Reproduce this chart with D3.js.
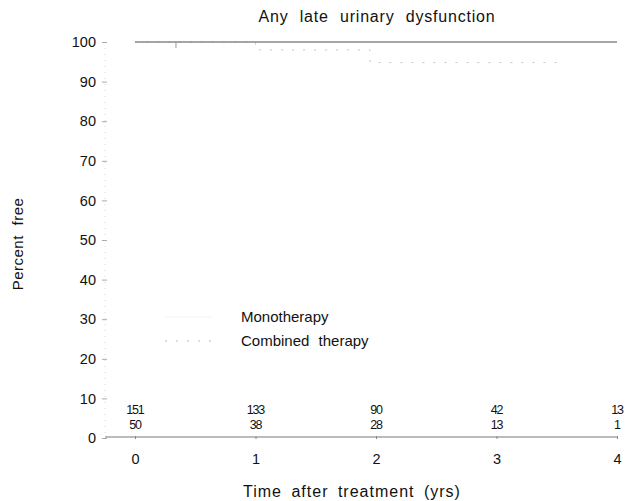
<!DOCTYPE html>
<html>
<head>
<meta charset="utf-8">
<script src="https://cdn.jsdelivr.net/npm/d3@7"></script>
<style>
  html, body { margin: 0; padding: 0; background: #fff; }
  svg text { font-family: "Liberation Sans", Arial, sans-serif; fill: #111; }
</style>
</head>
<body>
<svg id="chart" width="626" height="501"></svg>
<script>
// ---- data ----
const title = "Any late urinary dysfunction";
const xLabel = "Time after treatment (yrs)";
const yLabel = "Percent free";
const xTicks = [0, 1, 2, 3, 4];
const yTicks = [0, 10, 20, 30, 40, 50, 60, 70, 80, 90, 100];
const seriesNames = ["Monotherapy", "Combined therapy"];
// step curves: times (yrs) and percent free
const monoTimes = [0, 4];
const monoValues = [100, 100];
const combTimes = [0, 1.0, 1.95, 3.55];
const combValues = [100, 98, 94.8, 94.8];
const censorTimes = [0.34];
const censorValues = [100];
// numbers at risk
const riskTimes = [0, 1, 2, 3, 4];
const riskMono = [151, 133, 90, 42, 13];
const riskComb = [50, 38, 28, 13, 1];

// ---- layout ----
const svg = d3.select("#chart");
const x = d3.scaleLinear().domain([0, 4]).range([135, 617]);
const y = d3.scaleLinear().domain([0, 100]).range([438, 42]);

// title
svg.append("text").attr("x", 377).attr("y", 22).attr("text-anchor", "middle")
  .style("font-size", "16px").style("letter-spacing", "0.8px").style("word-spacing", "6px")
  .text(title);

// y axis (faint dotted line)
svg.append("line").attr("x1", 105).attr("x2", 105).attr("y1", y(100)).attr("y2", y(0))
  .attr("stroke", "#d6d6d6").attr("stroke-dasharray", "1,5");
const yAxis = d3.axisLeft(y).tickValues(yTicks).tickSize(5).tickPadding(6);
const yg = svg.append("g").attr("transform", "translate(107,0)").call(yAxis);
yg.select(".domain").remove();
yg.selectAll(".tick line").attr("stroke", "#aaa");
yg.selectAll(".tick text").style("font-size", "14.5px")
  .style("font-family", "'Liberation Sans', Arial, sans-serif").attr("fill", "#111");

// x axis line at 0
svg.append("line").attr("x1", 105).attr("x2", x(4)).attr("y1", 437).attr("y2", 437)
  .attr("stroke", "#777").attr("stroke-width", 1);
const xAxis = d3.axisBottom(x).tickValues(xTicks).tickSize(3).tickPadding(15).tickFormat(d3.format("d"));
const xg = svg.append("g").attr("transform", "translate(0,436)").call(xAxis);
xg.select(".domain").remove();
xg.selectAll(".tick line").attr("stroke", "#888");
xg.selectAll(".tick text").style("font-size", "14.5px")
  .style("font-family", "'Liberation Sans', Arial, sans-serif").attr("fill", "#111");

// axis labels
svg.append("text").attr("x", 352).attr("y", 497).attr("text-anchor", "middle")
  .style("font-size", "16px").style("letter-spacing", "1px").style("word-spacing", "4px")
  .text(xLabel);
svg.append("text").attr("transform", "translate(23,244) rotate(-90)").attr("text-anchor", "middle")
  .style("font-size", "15px").style("letter-spacing", "0.5px").style("word-spacing", "5px")
  .text(yLabel);

// curves
const stepLine = d3.line().x(d => x(d[0])).y(d => y(d[1])).curve(d3.curveStepAfter);
const mono = monoTimes.map((t, i) => [t, monoValues[i]]);
const comb = combTimes.map((t, i) => [t, combValues[i]]);
svg.append("path").datum(comb).attr("d", stepLine).attr("fill", "none")
  .attr("stroke", "#c4c4c4").attr("stroke-width", 1).attr("stroke-dasharray", "2,9");
svg.append("path").datum(mono).attr("d", stepLine).attr("fill", "none")
  .attr("stroke", "#888").attr("stroke-width", 1.3);
svg.selectAll(".censor").data(censorTimes).join("line").attr("class", "censor")
  .attr("x1", d => x(d)).attr("x2", d => x(d))
  .attr("y1", (d, i) => y(censorValues[i])).attr("y2", (d, i) => y(censorValues[i]) + 6)
  .attr("stroke", "#999");

// legend
const lg = svg.append("g");
lg.append("line").attr("x1", 165).attr("x2", 212).attr("y1", 317).attr("y2", 317)
  .attr("stroke", "#f4f4f4");
lg.append("line").attr("x1", 165).attr("x2", 212).attr("y1", 341).attr("y2", 341)
  .attr("stroke", "#bbb").attr("stroke-dasharray", "2,9");
lg.append("text").attr("x", 241).attr("y", 322).style("font-size", "15px")
  .text(seriesNames[0]);
lg.append("text").attr("x", 241).attr("y", 346).style("font-size", "15px")
  .style("word-spacing", "5px").text(seriesNames[1]);

// numbers at risk
const rf = "'Liberation Sans', Arial, sans-serif";
svg.selectAll(".r1").data(riskMono).join("text").attr("class", "r1")
  .attr("x", (d, i) => x(riskTimes[i])).attr("y", 414).attr("text-anchor", "middle")
  .style("font-size", "12.5px").style("letter-spacing", "-1.2px").style("font-family", rf).text(d => d);
svg.selectAll(".r2").data(riskComb).join("text").attr("class", "r2")
  .attr("x", (d, i) => x(riskTimes[i])).attr("y", 429).attr("text-anchor", "middle")
  .style("font-size", "12.5px").style("letter-spacing", "-1.2px").style("font-family", rf).text(d => d);
</script>
</body>
</html>
